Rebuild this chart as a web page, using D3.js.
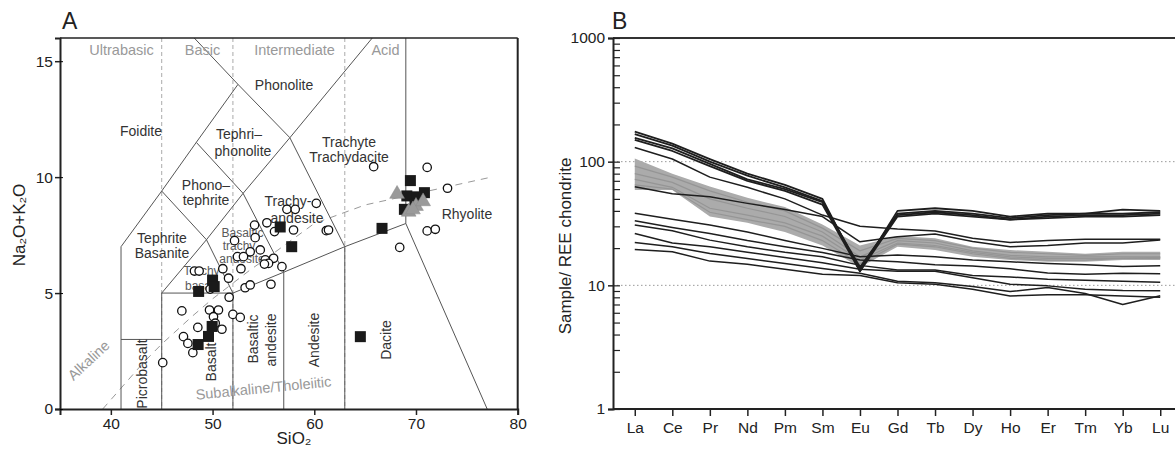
<!DOCTYPE html>
<html><head><meta charset="utf-8">
<script src="https://cdn.jsdelivr.net/npm/d3@7"></script>
<style>
body{margin:0;background:#fff;}
svg{font-family:"Liberation Sans",Arial,Helvetica,sans-serif;}
</style></head>
<body>
<svg id="c" width="1175" height="451"></svg>
<script>
// ---------- Panel A data (TAS) ----------
const circleSiO2 = [54.13,55.34,57.31,58.13,56.09,57.96,52.16,54.19,54.69,53.7,52.45,53.04,52.79,51.01,55.18,56.0,55.5,55.1,56.82,51.57,48.22,48.68,53.2,53.7,55.74,51.63,46.98,49.7,50.58,50.09,52.0,52.72,48.55,50.92,50.26,47.14,47.57,48.06,45.1,60.2,65.84,71.1,73.1,61.18,61.4,71.1,71.9,68.4,49.76];
const circleAlk  = [7.93,8.03,8.61,8.61,7.65,7.72,7.26,7.39,6.86,6.78,6.57,6.57,6.05,6.05,6.43,6.5,6.28,6.25,6.14,5.64,5.95,5.95,5.23,5.35,5.38,4.82,4.23,4.27,4.27,3.98,4.08,3.95,3.52,3.44,3.7,3.12,2.83,2.43,2.0,8.87,10.45,10.42,9.52,7.69,7.72,7.68,7.75,6.97,5.17];
const squareSiO2 = [56.65,57.78,50.0,50.16,48.63,49.96,49.6,48.58,69.45,69.1,70.1,70.83,68.86,66.66,64.53,69.9];
const squareAlk  = [7.85,7.0,5.56,5.28,5.07,3.56,3.13,2.78,9.85,9.19,9.15,9.33,8.61,7.79,3.12,8.85];
const triSiO2 = [68.14,69.28,70.0,70.7,69.7];
const triAlk  = [9.27,8.5,8.75,8.95,8.6];
const xTicksA = [40,50,60,70,80];
const yTicksA = [0,5,10,15];
// Irvine & Baragar alkaline/subalkaline divide
const ibSiO2 = [39.2,40,43.2,45,48,50,53.7,55,60,65,77.4];
const ibAlk  = [0,0.4,2,2.8,4,4.75,6,6.4,8,8.8,10];
// TAS field boundaries (Le Bas et al. 1986)
const tasLines = [
  [[41,0],[41,7],[45,9.4],[48.4,11.5],[52.5,14],[48.2,16]],
  [[41,3],[45,3]],
  [[45,0],[45,5],[52,5],[57,5.9],[63,7],[69,8],[77,0]],
  [[52,0],[52,5]],[[57,0],[57,5.9]],[[63,0],[63,7]],
  [[69,8],[69,16]],
  [[45,9.4],[49.4,7.3],[45,5]],
  [[49.4,7.3],[52,5]],
  [[49.4,7.3],[53,9.3],[57,5.9]],
  [[48.4,11.5],[53,9.3]],
  [[52.5,14],[57.6,11.7],[53,9.3]],
  [[57.6,11.7],[63,7]],
  [[57.6,11.7],[65.7,16]]
];
const divides = [45,52,63];

// ---------- Panel B data (REE) ----------
const elements = ["La","Ce","Pr","Nd","Pm","Sm","Eu","Gd","Tb","Dy","Ho","Er","Tm","Yb","Lu"];
const blackLines = [
  [175,140,105,80,65,50,13,40,42,40,36,38,38,41,40],
  [167,135,100,77,62,48,13.5,38,40,38,35,37,38,38,39],
  [156,128,96,72,60,47,14,37,39,37,34,36,37,37,38],
  [150,122,92,70,58,45,13,36,38,36,34,35,36,36,37],
  [130,105,75,62,50,37,30,28.5,27.5,24,22.2,23,23.6,23.6,23.6],
  [62.8,55,52,46,41,36,22.5,24.7,26,22.6,20.5,21,22,22,23.3],
  [38.2,34.2,30.7,27,23,19.9,17,17.6,17,16,15.5,15,14.7,14.2,14.4],
  [33.3,29.4,26.3,23,20.5,18.4,16,15.5,14.7,14.3,13.6,12.6,12.3,12.5,12.4],
  [30.7,27.6,23.2,20.5,18.5,17.0,14.5,13.3,13.3,12,11.7,11.2,11,10.8,10.6],
  [26.3,22,20.5,18.5,16.8,15.2,13.5,13,13,11.5,10.2,9.9,9.3,9.1,9.06],
  [22.2,20.5,18.1,16.5,15,13.7,12.5,10.8,10.5,9.8,8.9,9.6,8.6,7.0,8.24],
  [19.5,18.7,15.7,14.8,13.5,12.3,12,10.5,10.2,9.3,8.2,8.4,8.4,8.2,8.0]
];
const greyLines = [
  [92,75,58,47,40,29,19,24,23,20,18.5,18,17.5,18,18],
  [80,68,50,42,36,27,17,23,22,19,17.5,17,17,17,17],
  [72,62,42,37,32,25,16,22,21,18.5,17,16.5,16.5,16.5,16.5],
  [65,60,39,34,30,23,15,21.5,20.5,18,16.5,16,16,16.5,16.8]
];
const bandUpper = [106,80,63,51,43,31,21,25,24,20.5,19.3,18.7,18,18.7,18.7];
const bandLower = [59,59,36,32,27,21,14,20.5,19.3,17,16,15.5,15.5,16,16];
const yTicksB = [1,10,100,1000];

// ---------- drawing ----------
const svg = d3.select("#c");
const ink = "#222", fieldInk = "#333";

// ===== Panel A =====
const xA = d3.scaleLinear().domain([35,80]).range([60,517.7]);
const yA = d3.scaleLinear().domain([0,16]).range([409,38]);
const gA = svg.append("g");

divides.forEach(v=>{
  gA.append("line").attr("x1",xA(v)).attr("x2",xA(v)).attr("y1",yA(16)).attr("y2",yA(0))
    .attr("stroke","#aaa").attr("stroke-width",1).attr("stroke-dasharray","4,3");
});
const lineA = d3.line().x(d=>xA(d[0])).y(d=>yA(d[1]));
gA.append("path").datum(ibSiO2.map((s,i)=>[s,ibAlk[i]])).attr("d",lineA)
  .attr("fill","none").attr("stroke","#999").attr("stroke-width",1).attr("stroke-dasharray","7,6");
tasLines.forEach(l=>{
  gA.append("path").datum(l).attr("d",lineA).attr("fill","none").attr("stroke","#555").attr("stroke-width",1);
});

[["Ultrabasic",121.5],["Basic",202.5],["Intermediate",294.5],["Acid",385.5]].forEach(([t,x])=>{
  gA.append("text").attr("x",x).attr("y",55).attr("text-anchor","middle").attr("font-size",14.5)
    .attr("fill","#999").text(t);
});
gA.append("text").attr("transform","translate(92,364) rotate(-43)").attr("text-anchor","middle")
  .attr("font-size",14.5).attr("fill","#999").text("Alkaline");
gA.append("text").attr("transform","translate(264,393) rotate(-5.6)").attr("text-anchor","middle")
  .attr("font-size",14.5).attr("fill","#999").text("Subalkaline/Tholeiitic");

const fl = (t,x,y,size,col)=>gA.append("text").attr("x",x).attr("y",y).attr("text-anchor","middle")
  .attr("font-size",size||14).attr("fill",col||fieldInk).text(t);
fl("Phonolite",284,90);
fl("Foidite",141,136);
fl("Tephri\u2013",239,139);
fl("phonolite",243,156);
fl("Phono\u2013",206,190);
fl("tephrite",206,205);
fl("Trachyte",349,147);
fl("Trachydacite",349,162);
fl("Tephrite",162,243);
fl("Basanite",162,258);
fl("Trachy-",288,206);
fl("andesite",297,223);
fl("Basaltic",242.5,237,12,"#5a5a5a");
fl("trachy",239,250,12,"#5a5a5a");
fl("andesite",242,263,12,"#5a5a5a");
fl("Trachy",201.5,275,12,"#5a5a5a");
fl("basalt",201,290,12,"#5a5a5a");
fl("Rhyolite",467,219);
const rl = (t,x,y)=>gA.append("text").attr("transform",`translate(${x},${y}) rotate(-90)`)
  .attr("text-anchor","middle").attr("dy","0.35em").attr("font-size",14).attr("fill",fieldInk).text(t);
rl("Picrobasalt",142.5,374);
rl("Basalt",211,362);
rl("Basaltic",253,339);
rl("andesite",271.5,340);
rl("Andesite",314,340);
rl("Dacite",386,340);

gA.selectAll("circle.o").data(circleSiO2.map((s,i)=>[s,circleAlk[i]])).join("circle")
  .attr("cx",d=>xA(d[0])).attr("cy",d=>yA(d[1])).attr("r",4.2)
  .attr("fill","#fff").attr("stroke","#111").attr("stroke-width",1.3);
const sq = 11;
gA.selectAll("rect.s").data(squareSiO2.map((s,i)=>[s,squareAlk[i]])).join("rect")
  .attr("x",d=>xA(d[0])-sq/2).attr("y",d=>yA(d[1])-sq/2).attr("width",sq).attr("height",sq)
  .attr("fill","#1a1a1a");
const tri = d3.symbol().type(d3.symbolTriangle).size(95);
gA.selectAll("path.t").data(triSiO2.map((s,i)=>[s,triAlk[i]])).join("path")
  .attr("d",tri).attr("transform",d=>`translate(${xA(d[0])},${yA(d[1])})`)
  .attr("fill","#9a9a9a").attr("stroke","#888").attr("stroke-width",0.5);

gA.append("line").attr("x1",60).attr("x2",517.7).attr("y1",38).attr("y2",38).attr("stroke",ink).attr("stroke-width",1.5);
gA.append("line").attr("x1",517.7).attr("x2",517.7).attr("y1",38).attr("y2",409).attr("stroke",ink).attr("stroke-width",2);

const axA_x = gA.append("g").attr("transform","translate(0,409)")
  .call(d3.axisBottom(xA).tickValues(xTicksA).tickSize(6).tickPadding(3));
const axA_y = gA.append("g").attr("transform","translate(60,0)")
  .call(d3.axisLeft(yA).tickValues(yTicksA).tickSize(5).tickPadding(2));
gA.append("g").attr("transform","translate(60,0)")
  .call(d3.axisRight(yA).tickValues(yTicksA).tickSize(3).tickFormat(""))
  .call(g=>g.select(".domain").remove());
[axA_x,axA_y].forEach(a=>{
  a.select(".domain").attr("stroke",ink).attr("stroke-width",2);
  a.selectAll(".tick line").attr("stroke",ink).attr("stroke-width",1.5);
  a.selectAll("text").attr("font-size",15.5).attr("fill","#222").attr("font-family","Liberation Sans, Arial, sans-serif");
});
svg.append("text").attr("x",62).attr("y",29).attr("font-size",23).attr("fill","#222").text("A");
svg.append("text").attr("x",294).attr("y",444).attr("text-anchor","middle").attr("font-size",17).attr("fill","#222").text("SiO\u2082");
svg.append("text").attr("transform","translate(25,225) rotate(-90)").attr("text-anchor","middle")
  .attr("font-size",17).attr("fill","#222").text("Na\u2082O+K\u2082O");

// ===== Panel B =====
const xB = d3.scalePoint().domain(elements).range([613,1182]).padding(0.58);
const yB = d3.scaleLog().domain([1,1000]).range([409,38]);
const gB = svg.append("g");

[10,100].forEach(v=>{
  gB.append("line").attr("x1",613).attr("x2",1175).attr("y1",yB(v)).attr("y2",yB(v))
    .attr("stroke","#999").attr("stroke-width",1).attr("stroke-dasharray","1.5,2.5");
});

const lineB = d3.line().x((d,i)=>xB(elements[i])).y(d=>yB(d));
const area = d3.area().x((d,i)=>xB(elements[i])).y0((d,i)=>yB(bandLower[i])).y1(d=>yB(d));
gB.append("path").datum(bandUpper).attr("d",area).attr("fill","#ababab");
greyLines.forEach(l=>{
  gB.append("path").datum(l).attr("d",lineB).attr("fill","none").attr("stroke","#959595").attr("stroke-width",1.2);
});
blackLines.forEach((l,i)=>{
  gB.append("path").datum(l).attr("d",lineB).attr("fill","none").attr("stroke","#1e1e1e")
    .attr("stroke-width",i<4?1.8:1.5).attr("stroke-linejoin","round");
});

gB.append("line").attr("x1",613).attr("x2",1175).attr("y1",38).attr("y2",38).attr("stroke","#333").attr("stroke-width",2);

const axB_x = gB.append("g").attr("transform","translate(0,409)")
  .call(d3.axisBottom(xB).tickSize(7).tickPadding(6));
axB_x.select(".domain").attr("d","M613,0H1182");
const axB_y = gB.append("g").attr("transform","translate(613,0)")
  .call(d3.axisLeft(yB).tickValues(yTicksB).tickFormat(d3.format("d")).tickSize(5).tickPadding(3));
const minors = [];
[1,10,100].forEach(d=>{for(let k=2;k<=9;k++) minors.push(k*d);});
gB.append("g").attr("transform","translate(613,0)")
  .call(d3.axisRight(yB).tickValues(minors.concat(yTicksB)).tickSize(7).tickFormat(""))
  .call(g=>g.select(".domain").remove())
  .selectAll(".tick line").attr("stroke",ink).attr("stroke-width",1.2);
[axB_x,axB_y].forEach(a=>{
  a.select(".domain").attr("stroke",ink).attr("stroke-width",2);
  a.selectAll(".tick line").attr("stroke",ink).attr("stroke-width",1.5);
  a.selectAll("text").attr("font-size",15.5).attr("fill","#222").attr("font-family","Liberation Sans, Arial, sans-serif");
});
svg.append("text").attr("x",612).attr("y",29).attr("font-size",23).attr("fill","#222").text("B");
svg.append("text").attr("transform","translate(571,246) rotate(-90)").attr("text-anchor","middle")
  .attr("font-size",17).attr("fill","#222").text("Sample/ REE chondrite");
</script>
</body></html>
